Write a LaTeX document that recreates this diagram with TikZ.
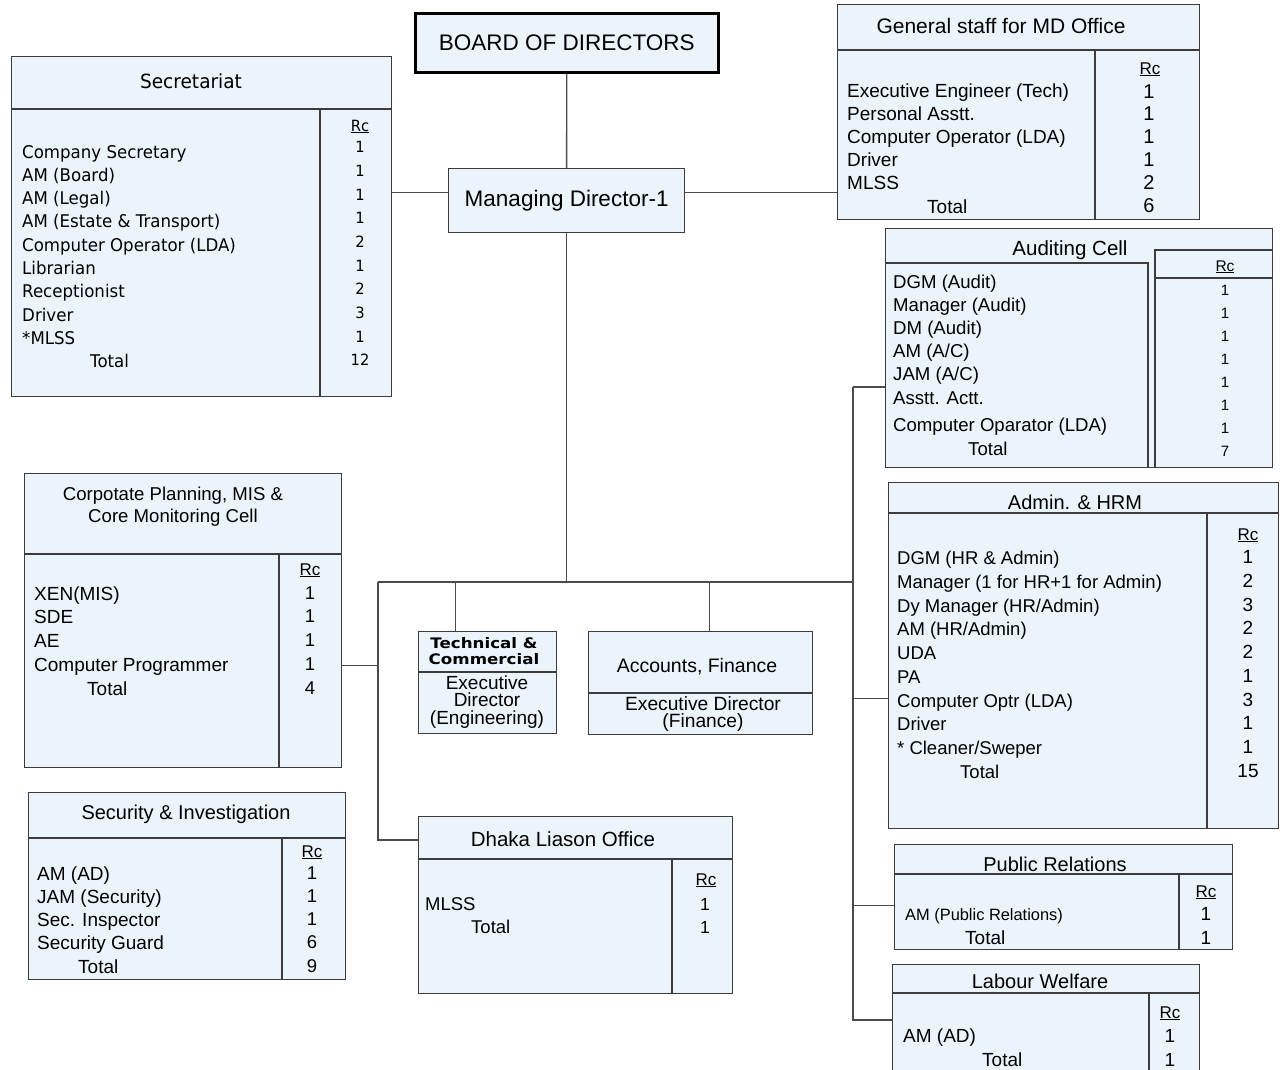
\documentclass[tikz,border=0pt]{standalone}
\usepackage{fontspec}
\setmainfont{Liberation Sans}
\newfontfamily\verdfont[FakeStretch=0.95]{DejaVu Sans}
\newfontfamily\widefont[FakeStretch=1.15]{DejaVu Sans}
\newcommand{\setfs}[2]{\fontsize{#1}{#2}\selectfont}

\definecolor{boxfill}{RGB}{234,244,250}
\definecolor{boxline}{RGB}{60,60,60}
\definecolor{linkgray}{RGB}{75,75,75}

\begin{document}
\begin{tikzpicture}[
    x=1pt, y=-1pt,
    box/.style={
        rectangle, draw=boxline, fill=boxfill, line width=1.3pt,
        anchor=north west, inner sep=0pt
    },
    sep/.style={draw=boxline, line width=1.3pt},
    link/.style={draw=linkgray, line width=1.4pt},
    head/.style={anchor=base, inner sep=0pt, font=\setfs{20.5}{24}},
    rows/.style={anchor=base west, align=left, inner sep=0pt, font=\setfs{19}{23.3}},
    nums/.style={anchor=base, align=center, inner sep=0pt, font=\setfs{19}{23.3}},
    rc/.style={anchor=base, inner sep=0pt, font=\setfs{17}{20}}
]
\useasboundingbox (0,0) rectangle (1280,1069);
\clip (0,0) rectangle (1280,1069);

% top of the chart
\node[box, draw=black, line width=2.5pt, minimum width=303pt, minimum height=59pt,
      font=\setfs{22.5}{26}] (bod) at (414,12) {BOARD OF DIRECTORS};
\node[box, minimum width=236pt, minimum height=64pt,
      font=\setfs{22.5}{26}] (md) at (448,168) {Managing Director-1};

% Secretariat  (multi-line nodes sit on their last line)
\node[box, minimum width=380pt, minimum height=340pt] (sec) at (11,56) {};
\draw[sep] (11,109) -- (391,109);
\draw[sep] (320,109) -- (320,396);
\node[head, font=\verdfont\setfs{19.5}{24}] (secT) at (191,88) {Secretariat};
\node[rc, font=\verdfont\setfs{15.5}{18}] (secRc) at (360,131) {\underline{Rc}};
\node[rows, font=\verdfont\setfs{17.5}{23.3}] (secR) at (22,367.7)
    {Company Secretary\\AM (Board)\\AM (Legal)\\AM (Estate \& Transport)\\
     Computer Operator (LDA)\\Librarian\\Receptionist\\Driver\\*MLSS\\
     \hspace*{68pt}Total};
\node[nums, font=\verdfont\setfs{15.5}{23.67}] (secN) at (360,365.7)
    {1\\1\\1\\1\\2\\1\\2\\3\\1\\12};

% General staff for MD Office
\node[box, minimum width=362pt, minimum height=215pt] (gen) at (837,4) {};
\draw[sep] (837,50) -- (1199,50);
\draw[sep] (1095,50) -- (1095,219);
\node[head, font=\setfs{21}{24}] (genT) at (1001,33) {General staff for MD Office};
\node[rc] (genRc) at (1150,74) {\underline{Rc}};
\node[rows, font=\setfs{19}{23.2}] (genR) at (847,213)
    {Executive Engineer (Tech)\\Personal Asstt.\\Computer Operator (LDA)\\
     Driver\\MLSS\\\hspace*{80pt}Total};
\node[nums, font=\setfs{20}{22.8}] (genN) at (1149,212) {1\\1\\1\\1\\2\\6};

% Auditing Cell
\node[box, minimum width=387pt, minimum height=239pt] (audit) at (885,228) {};
\draw[sep] (885,263) -- (1148,263) -- (1148,467);
\draw[sep] (1155,467) -- (1155,250) -- (1272,250);
\draw[sep] (1155,278) -- (1272,278);
\node[head] (auditT) at (1070,255) {Auditing Cell};
\node[rc, font=\setfs{15.5}{18}] (auditRc) at (1225,271) {\underline{Rc}};
\node[rows, font=\setfs{18.6}{23.2}] (auditR) at (893,455)
    {DGM (Audit)\\Manager (Audit)\\DM (Audit)\\AM (A/C)\\JAM (A/C)\\
     Asstt. Actt.\\[4.6pt]Computer Oparator (LDA)\\\hspace*{75pt}Total};
\node[nums, font=\setfs{15}{23.1}] (auditN) at (1225,456.7)
    {1\\1\\1\\1\\1\\1\\1\\7};

% Admin. & HRM
\node[box, minimum width=390pt, minimum height=346pt] (admin) at (888,482) {};
\draw[sep] (888,513) -- (1278,513);
\draw[sep] (1207,513) -- (1207,828);
\node[head, font=\setfs{20}{24}] (adminT) at (1075,509) {Admin. \& HRM};
\node[rc] (adminRc) at (1248,540) {\underline{Rc}};
\node[rows, font=\setfs{18.5}{23.67}] (adminR) at (897,778)
    {DGM (HR \& Admin)\\Manager (1 for HR+1 for Admin)\\Dy Manager (HR/Admin)\\
     AM (HR/Admin)\\UDA\\PA\\Computer Optr (LDA)\\Driver\\* Cleaner/Sweper\\
     \hspace*{63pt}Total};
\node[nums, font=\setfs{19}{23.67}] (adminN) at (1248,777)
    {1\\2\\3\\2\\2\\1\\3\\1\\1\\15};

% Corpotate Planning, MIS & Core Monitoring Cell
\node[box, minimum width=317pt, minimum height=294pt] (corp) at (24,473) {};
\draw[sep] (24,554) -- (341,554);
\draw[sep] (279,554) -- (279,767);
\node[head, align=center, font=\setfs{18.6}{22}] (corpT) at (173,522)
    {Corpotate Planning, MIS \&\\Core Monitoring Cell};
\node[rc] (corpRc) at (310,575) {\underline{Rc}};
\node[rows, font=\setfs{19}{23.75}] (corpR) at (34,695)
    {XEN(MIS)\\SDE\\AE\\Computer Programmer\\\hspace*{53pt}Total};
\node[nums, font=\setfs{18.5}{23.75}] (corpN) at (310,694) {1\\1\\1\\1\\4};

% Security & Investigation
\node[box, minimum width=317pt, minimum height=187pt] (secu) at (28,792) {};
\draw[sep] (28,838) -- (345,838);
\draw[sep] (282,838) -- (282,979);
\node[head, font=\setfs{20}{24}] (secuT) at (186,819) {Security \& Investigation};
\node[rc] (secuRc) at (312,857) {\underline{Rc}};
\node[rows, font=\setfs{19}{23.25}] (secuR) at (37,973)
    {AM (AD)\\JAM (Security)\\Sec. Inspector\\Security Guard\\\hspace*{41pt}Total};
\node[nums, font=\setfs{18.5}{23.25}] (secuN) at (312,972) {1\\1\\1\\6\\9};

% Technical & Commercial
\node[box, minimum width=138pt, minimum height=102pt] (tech) at (418,631) {};
\draw[sep] (418,672) -- (556,672);
\node[head, align=center, font=\widefont\bfseries\setfs{14.5}{16}] (techT) at (484,664)
    {Technical \&\\Commercial};
\node[head, align=center, font=\setfs{19}{17.5}] (techED) at (487,724)
    {Executive\\Director\\(Engineering)};

% Accounts, Finance
\node[box, minimum width=224pt, minimum height=103pt] (acc) at (588,631) {};
\draw[sep] (588,693) -- (812,693);
\node[head, font=\setfs{19.5}{24}] (accT) at (697,672) {Accounts, Finance};
\node[head, align=center, font=\setfs{19.2}{17}] (accED) at (703,727)
    {Executive Director\\(Finance)};

% Dhaka Liason Office
\node[box, minimum width=314pt, minimum height=177pt] (dhaka) at (418,816) {};
\draw[sep] (418,859) -- (732,859);
\draw[sep] (672,859) -- (672,993);
\node[head] (dhakaT) at (563,846) {Dhaka Liason Office};
\node[rc] (dhakaRc) at (706,885) {\underline{Rc}};
\node[rows, font=\setfs{18.5}{23.5}] (dhakaR) at (425,933.5) {MLSS\\\hspace*{46pt}Total};
\node[nums, font=\setfs{17.5}{23.5}] (dhakaN) at (705,933.5) {1\\1};

% Public Relations
\node[box, minimum width=338pt, minimum height=105pt] (pr) at (894,844) {};
\draw[sep] (894,874) -- (1232,874);
\draw[sep] (1179,874) -- (1179,949);
\node[head, font=\setfs{20}{24}] (prT) at (1055,871) {Public Relations};
\node[rc] (prRc) at (1206,897) {\underline{Rc}};
\node[rows, font=\setfs{19}{24}] (prR) at (905,944)
    {{\setfs{16.4}{24}AM (Public Relations)}\\\hspace*{60pt}Total};
\node[nums, font=\setfs{19}{24}] (prN) at (1206,944) {1\\1};

% Labour Welfare
\node[box, minimum width=307pt, minimum height=116pt] (labour) at (892,964) {};
\draw[sep] (892,993) -- (1199,993);
\draw[sep] (1149,993) -- (1149,1080);
\node[head, font=\setfs{20}{24}] (labourT) at (1040,988) {Labour Welfare};
\node[rc] (labourRc) at (1170,1018) {\underline{Rc}};
\node[rows, font=\setfs{19}{24}] (labourR) at (903,1066) {AM (AD)\\\hspace*{79pt}Total};
\node[nums, font=\setfs{19}{24}] (labourN) at (1170,1066) {1\\1};

% connectors
\coordinate (busL) at (378,582);
\coordinate (busR) at (853,582);
\coordinate (trunkT) at (853,387);

\draw[link] (bod) -- (md);
\draw[link] ([yshift=8pt]md.west) -- ([yshift=8pt]md.west -| sec.east);
\draw[link] ([yshift=8pt]md.east) -- ([yshift=8pt]md.east -| gen.west);
\draw[link] (md.south) -- (md.south |- busL);
\draw[link] (busL) -- (busR);
\draw[link] (busL) |- ([yshift=-24pt]dhaka.north west);
\draw[link] ([yshift=-45pt]corp.east) -- ([yshift=-45pt]corp.east -| busL);
\draw[link] ([xshift=-32pt]tech.north) -- ([xshift=-32pt]tech.north |- busL);
\draw[link] ([xshift=9pt]acc.north) -- ([xshift=9pt]acc.north |- busL);
\draw[link] (trunkT) -- (trunkT -| audit.west);
\draw[link] (trunkT) |- ([yshift=-56pt]labour.north west);
\draw[link] ([yshift=-43pt]admin.west) -- ([yshift=-43pt]admin.west -| trunkT);
\draw[link] ([yshift=-8.5pt]pr.west) -- ([yshift=-8.5pt]pr.west -| trunkT);
\end{tikzpicture}
\end{document}
